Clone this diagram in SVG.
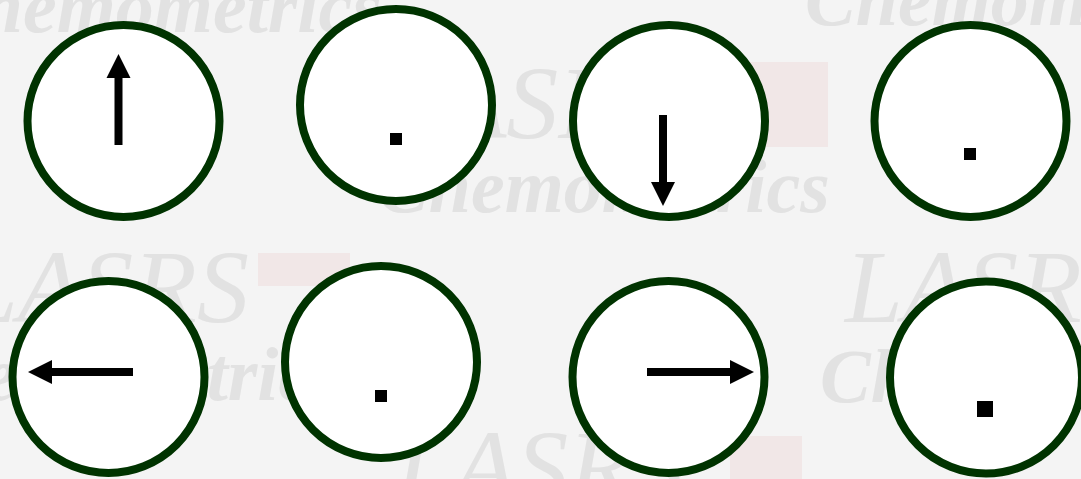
<svg xmlns="http://www.w3.org/2000/svg" width="1081" height="479" viewBox="0 0 1081 479">
<style>
.wm{font-family:"Liberation Serif",serif;font-style:italic;fill:#e2e2e2}
.wmb{font-size:104px}
.wms{font-size:76px;font-weight:bold}
.ring{fill:#ffffff;stroke:#003300;stroke-width:8}
.ink{fill:#000000}
</style>
<rect x="0" y="0" width="1081" height="479" fill="#f4f4f4"/>
<g id="watermark">
<rect x="748" y="62" width="80" height="85" fill="#f1e7e7"/>
<rect x="258" y="253" width="92" height="33" fill="#f1e7e7"/>
<rect x="730" y="436" width="72" height="43" fill="#f1e7e7"/>
<text class="wm wms" x="-70" y="32">Chemometrics</text>
<text class="wm wms" x="805" y="25">Chemometrics</text>
<text class="wm wmb" x="385" y="138">LASRS</text>
<text class="wm wms" x="378" y="212">Chemometrics</text>
<text class="wm wmb" x="-40" y="322">LASRS</text>
<text class="wm wmb" x="845" y="322">LASRS</text>
<text class="wm wms" x="-110" y="400">Chemometrics</text>
<text class="wm wms" x="820" y="402">Chemometrics</text>
<text class="wm wmb" x="395" y="502">LASRS</text>
</g>
<g id="node1">
<circle class="ring" cx="123.5" cy="121" r="96"/>
<rect class="ink" x="114.5" y="76" width="8" height="69"/>
<polygon class="ink" points="118.5,54 106.5,78 130.5,78"/>
</g>
<g id="node2">
<circle class="ring" cx="396" cy="105" r="96"/>
<rect class="ink" x="390" y="133" width="12" height="12"/>
</g>
<g id="node3">
<circle class="ring" cx="669" cy="121" r="96"/>
<rect class="ink" x="659" y="115" width="8" height="69"/>
<polygon class="ink" points="651,182 675,182 663,206"/>
</g>
<g id="node4">
<circle class="ring" cx="970.5" cy="121" r="96"/>
<rect class="ink" x="964" y="148" width="12" height="12"/>
</g>
<g id="node5">
<circle class="ring" cx="108.5" cy="377" r="96"/>
<rect class="ink" x="50" y="368" width="83" height="8"/>
<polygon class="ink" points="28,372 52,360 52,384"/>
</g>
<g id="node6">
<circle class="ring" cx="381" cy="362" r="96"/>
<rect class="ink" x="375" y="390" width="12" height="12"/>
</g>
<g id="node7">
<circle class="ring" cx="668.5" cy="377" r="96"/>
<rect class="ink" x="647" y="368" width="84" height="8"/>
<polygon class="ink" points="730,360 730,384 754,372"/>
</g>
<g id="node8">
<circle class="ring" cx="986" cy="377.5" r="96"/>
<rect class="ink" x="977" y="401" width="16" height="16"/>
</g>
<g id="connectors"></g>
</svg>
